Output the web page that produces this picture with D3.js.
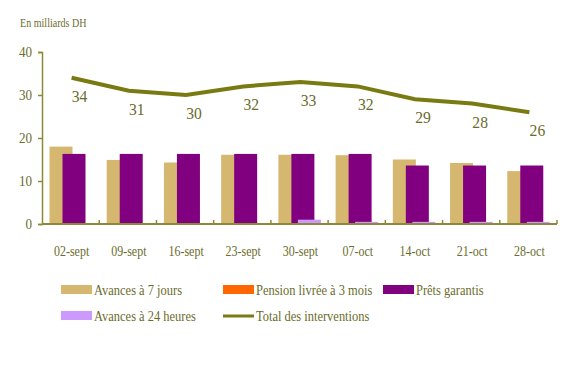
<!DOCTYPE html>
<html><head><meta charset="utf-8">
<script src="https://cdn.jsdelivr.net/npm/d3@7/dist/d3.min.js"></script>
<style>body{margin:0;background:#fff}svg{display:block}</style>
</head><body>
<svg id="c" width="577" height="368" font-family="Liberation Serif"></svg>
<script>
const categories = ["02-sept","09-sept","16-sept","23-sept","30-sept","07-oct","14-oct","21-oct","28-oct"];
const avances7 = [18.0,14.9,14.3,16.1,16.1,16.0,15.0,14.2,12.3];
const pension3m = [0,0,0,0,0,0,0,0,0];
const prets = [16.3,16.3,16.3,16.3,16.3,16.3,13.6,13.6,13.6];
const avances24 = [0,0,0,0,1.0,0.5,0.5,0.5,0.5];
const total = [34,31,30,32,33,32,29,28,26];
const yTicks = [0,10,20,30,40];
const seriesNames = ["Avances à 7 jours","Pension livrée à 3 mois","Prêts garantis","Avances à 24 heures","Total des interventions"];
const colors = ["#d5b76f","#ff6600","#800080","#cc99ff","#7a7a12"];

const FONT = "Liberation Serif";
const TXT = "#6b6b2b";
const svg = d3.select("#c");
const x = d3.scaleBand().domain(categories).range([42,557]);
const y = d3.scaleLinear().domain([0,40]).range([224,52]);
const axisColor = "#8a8a3a";

function styleText(sel, size){
  sel.attr("font-family", FONT).attr("font-size", size).attr("fill", TXT);
}

// unit label
const ul = svg.append("text").attr("transform","translate(20,27) scale(0.84,1)").text("En milliards DH");
styleText(ul, 12);

// y axis
const ya = svg.append("g").attr("transform","translate(42,0)").call(d3.axisLeft(y).tickValues(yTicks).tickSize(4).tickPadding(6));
ya.attr("font-family", FONT);
ya.select(".domain").attr("stroke",axisColor).attr("stroke-width",1.5);
ya.selectAll(".tick line").attr("stroke",axisColor).attr("stroke-width",1.5);
ya.selectAll(".tick text").each(function(){
  const t = d3.select(this);
  const xx = +t.attr("x");
  t.attr("x",null).attr("transform",`translate(${xx},0) scale(0.87,1)`);
});
styleText(ya.selectAll(".tick text"), 15);

// bars
const bw = 23, step = 6.5, lead = 7.5;
const series = [avances7,pension3m,prets,avances24];
series.forEach((vals,si)=>{
  svg.append("g").selectAll("rect").data(categories).join("rect")
    .attr("x",(d)=>x(d)+lead+si*step)
    .attr("width",bw)
    .attr("y",(d,i)=>y(vals[i]))
    .attr("height",(d,i)=>y(0)-y(vals[i]))
    .attr("fill",colors[si]);
});

// x axis
const xa = svg.append("g").attr("transform","translate(0,224)").call(d3.axisBottom(x).tickSize(0).tickPadding(0));
xa.attr("font-family", FONT);
xa.select(".domain").remove();
xa.selectAll(".tick text").attr("y",null).attr("dy",null).attr("transform","translate(1,32) scale(0.8,1)");
styleText(xa.selectAll(".tick text"), 15);
svg.append("line").attr("x1",42).attr("x2",557).attr("y1",224).attr("y2",224).attr("stroke",axisColor).attr("stroke-width",2);
svg.append("g").selectAll("line").data(categories).join("line")
  .attr("x1",d=>x(d)+x.bandwidth()).attr("x2",d=>x(d)+x.bandwidth())
  .attr("y1",224).attr("y2",220).attr("stroke",axisColor).attr("stroke-width",1.5);

// line
const cx = d=>x(d)+x.bandwidth()/2+1;
svg.append("path").datum(total)
  .attr("d",d3.line().x((d,i)=>cx(categories[i])).y(d=>y(d)))
  .attr("fill","none").attr("stroke",colors[4]).attr("stroke-width",4);
const lbl = svg.append("g").selectAll("text").data(total).join("text")
  .attr("transform",(d,i)=>`translate(${cx(categories[i])+8},${y(d)+24}) scale(0.92,1)`)
  .attr("text-anchor","middle").text(d=>d);
styleText(lbl, 17);

// legend
const leg = [
  {i:0,x:61,y:290},{i:1,x:223,y:290},{i:2,x:383,y:290},
  {i:3,x:61,y:316},{i:4,x:223,y:316}
];
leg.forEach(l=>{
  if(l.i===4){
    svg.append("line").attr("x1",l.x).attr("x2",l.x+31).attr("y1",l.y).attr("y2",l.y).attr("stroke",colors[4]).attr("stroke-width",3);
  } else {
    svg.append("rect").attr("x",l.x).attr("y",l.y-5).attr("width",31).attr("height",9).attr("fill",colors[l.i]);
  }
  const t = svg.append("text").attr("transform",`translate(${l.x+33},${l.y+5}) scale(0.86,1)`).text(seriesNames[l.i]);
  styleText(t, 14.5);
});
</script>
</body></html>
